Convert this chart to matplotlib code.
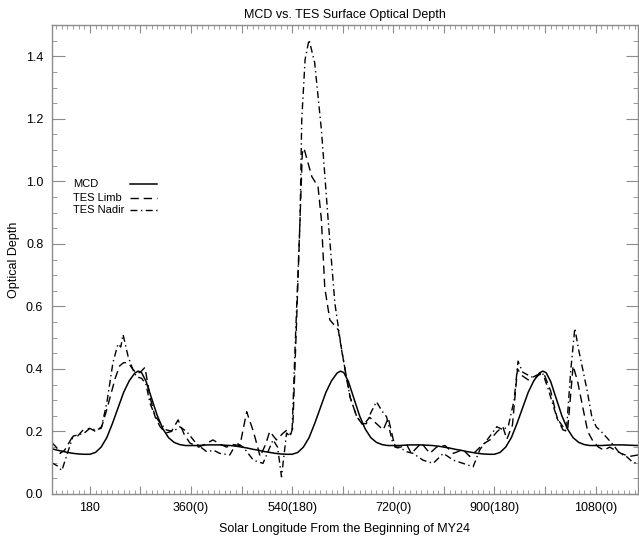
import matplotlib
matplotlib.use("Agg")
import matplotlib.pyplot as plt
from matplotlib.ticker import FixedLocator, MultipleLocator

plt.rcParams['font.family'] = ['Liberation Sans', 'DejaVu Sans']

# ---------------- data ----------------
mcd_ls = [112, 120, 130, 140, 150, 160, 170, 180, 190, 200, 210, 220, 230, 240, 250, 260, 266, 272, 280, 290,
          300, 310, 320, 330, 340, 350, 360, 370, 380, 390, 400, 410, 420, 430, 440, 450, 460, 470, 480, 490,
          500, 510, 520, 530, 540, 550, 560, 570, 580, 590, 600, 610, 620, 626, 632, 640, 650, 660, 670, 680,
          690, 700, 710, 720, 730, 740, 750, 760, 770, 780, 790, 800, 810, 820, 830, 840, 850, 860, 870, 880,
          890, 900, 910, 920, 930, 940, 950, 960, 970, 980, 986, 992, 1000, 1010, 1020, 1030, 1040, 1050, 1060,
          1070, 1080, 1090, 1100, 1110, 1120, 1130, 1140, 1156]
mcd_tau = [0.145, 0.141, 0.137, 0.133, 0.130, 0.128, 0.127, 0.127, 0.133, 0.150, 0.180, 0.225, 0.275, 0.325,
           0.362, 0.387, 0.393, 0.388, 0.360, 0.305, 0.250, 0.208, 0.180, 0.165, 0.158, 0.155, 0.155, 0.155,
           0.156, 0.157, 0.157, 0.157, 0.156, 0.155, 0.153, 0.150, 0.147, 0.143, 0.140, 0.136, 0.133, 0.130,
           0.128, 0.127, 0.127, 0.133, 0.150, 0.180, 0.225, 0.275, 0.325, 0.362, 0.387, 0.393, 0.388, 0.360,
           0.305, 0.250, 0.208, 0.180, 0.165, 0.158, 0.155, 0.155, 0.155, 0.156, 0.157, 0.157, 0.157, 0.156,
           0.155, 0.153, 0.150, 0.147, 0.143, 0.140, 0.136, 0.133, 0.130, 0.128, 0.127, 0.127, 0.133, 0.150,
           0.180, 0.225, 0.275, 0.325, 0.362, 0.387, 0.393, 0.388, 0.360, 0.305, 0.250, 0.208, 0.180, 0.165,
           0.158, 0.155, 0.155, 0.155, 0.156, 0.157, 0.157, 0.157, 0.156, 0.155]

limb_ls = [112, 120, 127, 135, 148, 158, 168, 180, 190, 201, 210, 216, 225, 233, 240, 248, 256, 263, 270, 278,
           287, 296, 305, 315, 325, 337, 348, 358, 374, 386, 399, 411, 423, 435, 447, 459, 471, 483, 493, 500,
           512, 524, 531, 537, 541, 548, 554, 558, 561, 568, 575, 586, 592, 598, 607, 615, 622, 632, 643, 655,
           666, 678, 690, 702, 711, 723, 733, 744, 752, 770, 785, 797, 812, 827, 844, 856, 866, 880, 892, 905,
           915, 922, 932, 941, 948, 960, 975, 988, 1000, 1012, 1022, 1030, 1040, 1048, 1058, 1066, 1075, 1085,
           1095, 1105, 1115, 1125, 1140, 1156]
limb_tau = [0.165, 0.150, 0.130, 0.140, 0.180, 0.185, 0.205, 0.210, 0.200, 0.215, 0.270, 0.310, 0.370, 0.410,
            0.420, 0.420, 0.400, 0.385, 0.390, 0.405, 0.310, 0.247, 0.215, 0.195, 0.200, 0.237, 0.190, 0.163,
            0.150, 0.160, 0.173, 0.160, 0.150, 0.158, 0.155, 0.263, 0.200, 0.120, 0.160, 0.200, 0.173, 0.195,
            0.205, 0.190, 0.210, 0.560, 0.880, 1.090, 1.106, 1.060, 1.015, 0.983, 0.877, 0.660, 0.557, 0.540,
            0.525, 0.420, 0.310, 0.247, 0.220, 0.245, 0.225, 0.205, 0.243, 0.150, 0.150, 0.157, 0.130, 0.163,
            0.130, 0.150, 0.155, 0.130, 0.142, 0.120, 0.135, 0.160, 0.173, 0.200, 0.215, 0.175, 0.220, 0.400,
            0.380, 0.365, 0.380, 0.385, 0.330, 0.240, 0.205, 0.200, 0.410, 0.360, 0.270, 0.200, 0.170, 0.150,
            0.140, 0.150, 0.140, 0.130, 0.120, 0.125]

nadir_ls = [112, 122, 130, 140, 150, 160, 170, 180, 190, 200, 210, 221, 230, 235, 239, 248, 256, 263, 272, 280,
            287, 296, 305, 316, 328, 340, 352, 370, 388, 400, 411, 429, 441, 453, 471, 488, 506, 514, 521, 530,
            536, 540, 545, 554, 557, 563, 570, 580, 592, 604, 616, 628, 643, 655, 665, 672, 680, 690, 700, 708,
            718, 726, 732, 744, 755, 773, 791, 809, 827, 844, 862, 874, 892, 904, 916, 925, 935, 942, 950, 960,
            972, 985, 995, 1005, 1012, 1020, 1028, 1036, 1043, 1050, 1057, 1065, 1073, 1081, 1090, 1100, 1110,
            1123, 1135, 1147, 1156]
nadir_tau = [0.100, 0.090, 0.075, 0.130, 0.185, 0.190, 0.195, 0.210, 0.205, 0.210, 0.290, 0.420, 0.480, 0.470,
             0.510, 0.440, 0.400, 0.375, 0.370, 0.350, 0.290, 0.250, 0.227, 0.205, 0.200, 0.215, 0.200, 0.160,
             0.135, 0.140, 0.130, 0.125, 0.163, 0.150, 0.108, 0.098, 0.173, 0.150, 0.055, 0.195, 0.185, 0.210,
             0.460, 0.877, 1.197, 1.390, 1.453, 1.380, 1.165, 0.877, 0.610, 0.460, 0.310, 0.247, 0.225, 0.225,
             0.260, 0.295, 0.265, 0.247, 0.170, 0.148, 0.148, 0.135, 0.130, 0.108, 0.098, 0.130, 0.108, 0.098,
             0.087, 0.142, 0.185, 0.215, 0.205, 0.220, 0.300, 0.425, 0.390, 0.380, 0.370, 0.390, 0.340, 0.280,
             0.240, 0.220, 0.200, 0.400, 0.530, 0.460, 0.400, 0.330, 0.250, 0.215, 0.200, 0.180, 0.160, 0.130,
             0.120, 0.100, 0.100]

series_names = ['MCD', 'TES Limb', 'TES Nadir']

xtick_vals = [180, 270, 360, 450, 540, 630, 720, 810, 900, 990, 1080]
xtick_labels = ["180", "", "360(0)", "", "540(180)", "", "720(0)", "", "900(180)", "", "1080(0)"]
ytick_vals = [0.0, 0.2, 0.4, 0.6, 0.8, 1.0, 1.2, 1.4]
ytick_labels = ["0.0", "0.2", "0.4", "0.6", "0.8", "1.0", "1.2", "1.4"]

# ---------------- figure ----------------
fig = plt.figure(figsize=(6.39, 5.38), dpi=100)
ax = fig.add_axes([0.0809, 0.0818, 0.918, 0.8717])

lc = 'black'
styles = ['-', (0, (6, 3.5)), (0, (5, 2.5, 1, 2.5))]
widths = [1.1, 1.0, 1.0]
ax.plot(mcd_ls, mcd_tau, color=lc, lw=widths[0], ls=styles[0])
ax.plot(limb_ls, limb_tau, color=lc, lw=widths[1], ls=styles[1])
ax.plot(nadir_ls, nadir_tau, color=lc, lw=widths[2], ls=styles[2])

ax.set_xlim(112, 1156)
ax.set_ylim(0, 1.5)

ax.xaxis.set_major_locator(FixedLocator(xtick_vals))
ax.set_xticklabels(xtick_labels)
ax.xaxis.set_minor_locator(MultipleLocator(10))
ax.yaxis.set_major_locator(FixedLocator(ytick_vals))
ax.set_yticklabels(ytick_labels)
ax.yaxis.set_minor_locator(MultipleLocator(0.05))

gray = '#8c8c8c'
for s in ax.spines.values():
    s.set_color(gray)
    s.set_linewidth(1.0)
ax.tick_params(axis='both', which='both', direction='in', top=True, right=True, color=gray,
               labelsize=9, labelcolor='black', pad=6)
ax.tick_params(axis='x', which='major', length=6)
ax.tick_params(axis='x', which='minor', length=3)
ax.tick_params(axis='y', which='major', length=9)
ax.tick_params(axis='y', which='minor', length=3.5)

ax.set_title('MCD vs. TES Surface Optical Depth', fontsize=9, pad=5)
ax.set_xlabel('Solar Longitude From the Beginning of MY24', fontsize=9, labelpad=6)
ax.set_ylabel('Optical Depth', fontsize=9, labelpad=4)

# legend: text on the left, line sample on the right
leg_y = [0.661, 0.632, 0.6055]
for name, st, w, yy in zip(series_names, styles, widths, leg_y):
    ax.text(0.0363, yy, name, transform=ax.transAxes, fontsize=8, va='center', ha='left')
    ax.plot([0.134, 0.180], [yy, yy], transform=ax.transAxes, color=lc, lw=w, ls=st)

fig.savefig('out.png', dpi=100)
